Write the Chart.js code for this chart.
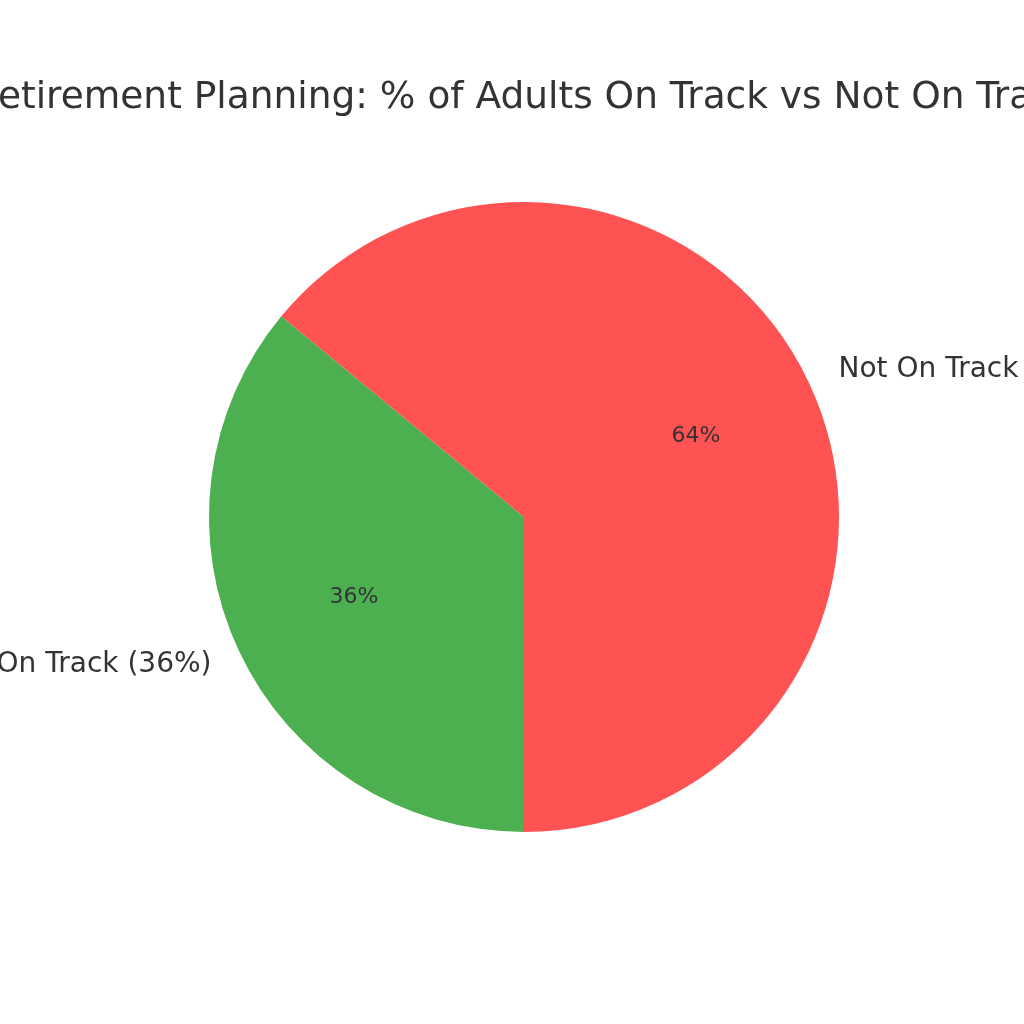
<!DOCTYPE html>
<html>
<head>
<meta charset="utf-8">
<script src="https://cdn.jsdelivr.net/npm/chart.js@4"></script>
<style>
  html, body { margin: 0; padding: 0; background: #ffffff; }
  canvas { display: block; }
</style>
</head>
<body>
<canvas id="c" width="1024" height="1024"></canvas>
<script>
const titleText = "Retirement Planning: % of Adults On Track vs Not On Track";
const categories = ["On Track", "Not On Track"];
const values = [36, 64];
const sliceColors = ["#4CAF50", "#FF5252"];
const textColor = "#333333";
const fontFamily = "'DejaVu Sans', sans-serif";

const pieLabels = {
  id: 'pieLabels',
  afterDatasetsDraw(chart) {
    const ctx = chart.ctx;
    const meta = chart.getDatasetMeta(0);
    const total = values.reduce((a, b) => a + b, 0);
    ctx.save();
    ctx.fillStyle = textColor;
    meta.data.forEach((arc, i) => {
      const p = arc.getProps(['x', 'y', 'startAngle', 'endAngle', 'outerRadius'], true);
      const mid = (p.startAngle + p.endAngle) / 2;
      const c = Math.cos(mid), s = Math.sin(mid);
      const pct = Math.round(values[i] / total * 100);
      ctx.font = "22px " + fontFamily;
      ctx.textAlign = 'center';
      ctx.textBaseline = 'middle';
      ctx.fillText(pct + "%", p.x + c * p.outerRadius * 0.6 + 1, p.y + s * p.outerRadius * 0.6);
      ctx.font = "28px " + fontFamily;
      ctx.textAlign = c >= 0 ? 'left' : 'right';
      ctx.fillText(categories[i] + " (" + pct + "%)", p.x + c * p.outerRadius * 1.1 + 1, p.y + s * p.outerRadius * 1.1);
    });
    ctx.font = "37.5px " + fontFamily;
    ctx.textAlign = 'center';
    ctx.textBaseline = 'alphabetic';
    const ca = chart.chartArea;
    ctx.fillText(titleText, (ca.left + ca.right) / 2, 108);
    ctx.restore();
  }
};

new Chart(document.getElementById('c'), {
  type: 'pie',
  data: {
    labels: categories,
    datasets: [{
      data: values,
      backgroundColor: sliceColors,
      borderWidth: 0
    }]
  },
  options: {
    responsive: false,
    animation: false,
    rotation: 180,
    layout: { padding: { left: 209, right: 185, top: 202, bottom: 192 } },
    plugins: {
      legend: { display: false },
      title: { display: false },
      tooltip: { enabled: false }
    }
  },
  plugins: [pieLabels]
});
</script>
</body>
</html>
